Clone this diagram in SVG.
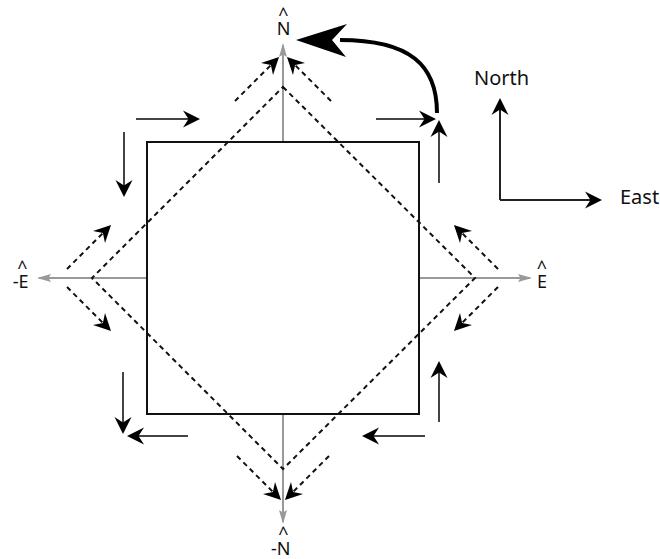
<svg xmlns="http://www.w3.org/2000/svg" width="660" height="559" viewBox="0 0 660 559">
<style>
  .sq { fill: none; stroke: #111; stroke-width: 2; }
  .axis { fill: none; stroke: #999; stroke-width: 2; marker-end: url(#gh); }
  .dash { fill: none; stroke: #111; stroke-width: 2; stroke-dasharray: 5 4; }
  .darr { fill: none; stroke: #111; stroke-width: 2; stroke-dasharray: 5 4; marker-end: url(#ah); }
  .sarr { fill: none; stroke: #444; stroke-width: 2; marker-end: url(#ah); }
  .ne { fill: none; stroke: #222; stroke-width: 2; marker-end: url(#ah); }
  .lbl { font-family: "Noto Sans", "Open Sans", sans-serif; font-size: 18px; fill: #111; }
  .big { font-family: "Noto Sans", "Open Sans", sans-serif; font-size: 20px; fill: #111; }
</style>
<defs>
  <marker id="ah" viewBox="-17 -10 21 20" markerWidth="21" markerHeight="20" refX="0" refY="0" orient="auto" markerUnits="userSpaceOnUse">
    <path d="M3,0 L-14,-8.5 L-8.5,0 L-14,8.5 Z" fill="#000"/>
  </marker>
  <marker id="gh" viewBox="-14 -6 18 12" markerWidth="18" markerHeight="12" refX="0" refY="0" orient="auto" markerUnits="userSpaceOnUse">
    <path d="M2,0 L-12,-4 L-9.5,0 L-12,4 Z" fill="#999"/>
  </marker>
</defs>

<g id="axes">
  <path class="axis" d="M283,142 L283,45"/>
  <path class="axis" d="M283,414 L283,522"/>
  <path class="axis" d="M147,278 L39,278"/>
  <path class="axis" d="M419,278 L530,278"/>
</g>

<g id="square">
  <rect class="sq" x="147" y="142" width="272" height="272"/>
</g>

<g id="diamond">
  <polygon class="dash" points="283,87 475,278 283,469 92,278"/>
</g>

<g id="connectors">
  <path class="darr" d="M235,101 L276.9,59.1"/>
  <path class="darr" d="M331,101 L289.1,59.1"/>
  <path class="darr" d="M67,269 L108.9,227.1"/>
  <path class="darr" d="M67,287 L108.9,328.9"/>
  <path class="darr" d="M498,269 L456.1,227.1"/>
  <path class="darr" d="M498,287 L456.1,328.9"/>
  <path class="darr" d="M237,456 L278.9,497.9"/>
  <path class="darr" d="M329,456 L287.1,497.9"/>
  <path class="sarr" d="M136,119 L197,119"/>
  <path class="sarr" d="M124,132 L124,194"/>
  <path class="sarr" d="M376,119 L433,119"/>
  <path class="sarr" d="M439,183 L439,123"/>
  <path class="sarr" d="M123,372 L123,431"/>
  <path class="sarr" d="M188,436 L130,436"/>
  <path class="sarr" d="M439,422 L439,364"/>
  <path class="sarr" d="M425,436 L365,436"/>
  <path d="M437,113 C437,65 410,40 340,40" fill="none" stroke="#000" stroke-width="4"/>
  <path d="M296,40 L347,24 L332,40 L346,57 Z" fill="#000"/>
  <path class="ne" d="M500,200 L500,101"/>
  <path class="ne" d="M500,200 L599,200"/>
</g>

<g id="labels">
  <text class="lbl" x="283.5" y="20.5" text-anchor="middle">^</text>
  <text class="lbl" x="283.5" y="35" text-anchor="middle">N</text>
  <text class="lbl" x="283.5" y="540" text-anchor="middle">^</text>
  <text class="lbl" x="290.5" y="554.5" text-anchor="end">-N</text>
  <text class="lbl" x="22.5" y="273.5" text-anchor="middle">^</text>
  <text class="lbl" x="28.5" y="288" text-anchor="end">-E</text>
  <text class="lbl" x="542" y="273.5" text-anchor="middle">^</text>
  <text class="lbl" x="542" y="288" text-anchor="middle">E</text>
  <text class="big" x="474" y="85">North</text>
  <text class="big" x="620" y="204">East</text>
</g>
</svg>
